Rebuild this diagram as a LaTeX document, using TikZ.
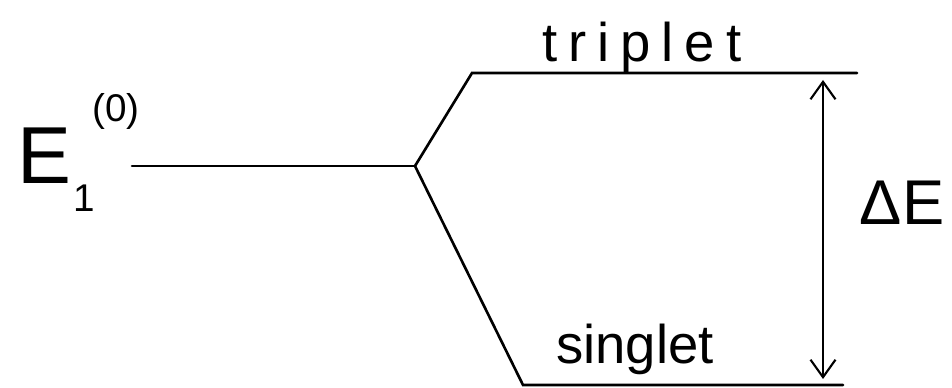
\documentclass[tikz,border=0pt]{standalone}
\usepackage{fontspec}
\setmainfont{Liberation Sans}
\usetikzlibrary{arrows.meta, positioning}
\tikzset{
  every picture/.style={line width=1.2pt},
  level/.style={line width=1.5pt, line cap=round},
  gap/.style={{Straight Barb[length=3.5mm, width=5mm]}-{Straight Barb[length=3.5mm, width=5mm]}, line width=1.2pt},
  tag/.style={font=\fontsize{31}{34}\selectfont, inner sep=0pt, anchor=base},
  big/.style={font=\fontsize{46}{50}\selectfont, inner sep=0pt, anchor=base},
  small/.style={font=\fontsize{22}{24}\selectfont, inner sep=0pt, anchor=base},
}

\begin{document}
\begin{tikzpicture}[x=0.02cm, y=-0.02cm]
  \useasboundingbox (0,0) rectangle (952,388);
  % unperturbed level and its splitting
  \coordinate (g0) at (132,166);
  \coordinate (split) at (415,166);
  \coordinate (t0) at (472,73);
  \coordinate (t1) at (857,73);
  \coordinate (s0) at (523,385);
  \coordinate (s1) at (843,385);
  \draw[level] (g0) -- (split);
  \draw[level] (split) -- (t0) -- (t1);
  \draw[level] (split) -- (s0) -- (s1);
  % labels
  \node[big] (E) at (44,183) {E};
  \node[small] (one) at (84,211) {1};
  \node[small] (zero) at (116,122) {(0)};
  \node[tag] (trip) at (642,62) {\addfontfeatures{LetterSpace=20}triplet};
  \node[tag] (sing) at (635,363) {singlet};
  % splitting
  \coordinate (a0) at (823,80);
  \coordinate (a1) at (823,379);
  \draw[gap] (a0) -- (a1);
  \node[tag, font=\fontsize{36}{40}\selectfont] (dE) at (902,224) {ΔE};
\end{tikzpicture}
\end{document}
